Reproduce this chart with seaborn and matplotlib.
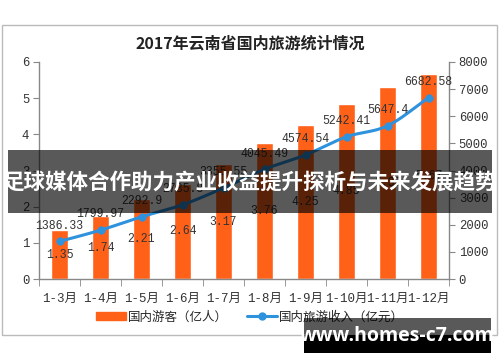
import numpy as np
import matplotlib
matplotlib.use('Agg')
import matplotlib.pyplot as plt
from matplotlib.patches import Rectangle
from matplotlib.lines import Line2D
import seaborn as sns
import pandas as pd

# data
months = ['1-3月', '1-4月', '1-5月', '1-6月', '1-7月', '1-8月', '1-9月', '1-10月', '1-11月', '1-12月']
tourists = [1.35, 1.74, 2.21, 2.64, 3.17, 3.76, 4.25, 4.85, 5.30, 5.67]
income = [1386.33, 1799.97, 2292.9, 2735.8, 3355.55, 4045.49, 4574.54, 5242.41, 5647.4, 6682.58]

bar_color = '#FF6119'
line_color = '#2E92DC'
axis_grey = '#888888'
mono = ['Liberation Mono', 'Noto Sans CJK SC']
cjk = ['Noto Sans CJK SC', 'DejaVu Sans']

sns.set_style('white')
plt.rcParams['font.family'] = cjk

df = pd.DataFrame({'month': months, 'tourists': tourists, 'income': income})

fig = plt.figure(figsize=(5, 3.62), dpi=100)
W, H = 500, 362

# outer chart frame
fig.patches.append(Rectangle((2 / W, 1 - 335 / H), 495 / W, 310 / H, transform=fig.transFigure,
                             fill=False, edgecolor='#BBBBBB', linewidth=1))

ax = fig.add_axes([39 / W, 1 - 279 / H, 410 / W, 217 / H])
sns.barplot(data=df, x='month', y='tourists', color=bar_color, width=0.42, saturation=1, ax=ax)
ax.set_ylim(0, 6)
ax.set_yticks(range(0, 7))
ax.set_xlabel('')
ax.set_ylabel('')

for i, v in enumerate(tourists):
    ax.text(i, v / 2, f'{v:.2f}', ha='center', va='center', fontsize=8.3, family=mono, color='#333333')

ax2 = ax.twinx()
x = np.arange(len(income), dtype=float)
y = np.array(income)

# Catmull-Rom smoothing through the data points (Excel "smoothed line")
px = np.concatenate([[x[0] - (x[1] - x[0])], x, [x[-1] + (x[-1] - x[-2])]])
py = np.concatenate([[y[0] - (y[1] - y[0])], y, [y[-1] + (y[-1] - y[-2])]])
cx, cy = [], []
t = np.linspace(0, 1, 20)
for k in range(1, len(px) - 2):
    for arr, out in ((px, cx), (py, cy)):
        p0, p1, p2, p3 = arr[k - 1], arr[k], arr[k + 1], arr[k + 2]
        out.extend(0.5 * (2 * p1 + (-p0 + p2) * t + (2 * p0 - 5 * p1 + 4 * p2 - p3) * t ** 2
                          + (-p0 + 3 * p1 - 3 * p2 + p3) * t ** 3))
ax2.plot(cx, cy, color=line_color, linewidth=2.2, solid_capstyle='round')
sns.scatterplot(x=x, y=y, color=line_color, s=30, edgecolor=line_color, zorder=3, ax=ax2, legend=False)
ax2.set_ylim(0, 8000)
ax2.set_yticks(range(0, 8001, 1000))

for i, v in enumerate(income):
    ax2.text(i, v + 580, f'{v:g}', ha='center', va='center', fontsize=8.3, family=mono, color='#333333')

ax.set_xlim(-0.5, len(months) - 0.5)
for a in (ax, ax2):
    for s in a.spines.values():
        s.set_visible(False)
ax.spines['left'].set_visible(True)
ax.spines['bottom'].set_visible(True)
ax2.spines['right'].set_visible(True)
for s in (ax.spines['left'], ax.spines['bottom'], ax2.spines['right']):
    s.set_color(axis_grey)
    s.set_linewidth(1)

ax.tick_params(axis='y', direction='out', length=4, color=axis_grey, labelsize=8.8, pad=3, left=True)
ax2.tick_params(axis='y', direction='out', length=4, color=axis_grey, labelsize=8.8, pad=3, right=True)
for lab in ax.get_yticklabels() + ax2.get_yticklabels():
    lab.set_family(mono)
    lab.set_color('#333333')

# category tick marks sit between the bars
ax.set_xticks(np.arange(len(months)))
ax.set_xticklabels(months)
ax.tick_params(axis='x', length=0, labelsize=9, pad=10)
for lab in ax.get_xticklabels():
    lab.set_family(mono)
    lab.set_color('#333333')
ax.set_xticks(np.arange(-0.5, len(months)), minor=True)
ax.tick_params(axis='x', which='minor', direction='out', length=5, color=axis_grey, bottom=True)

fig.text(0.5, 1 - 43 / H, '2017年云南省国内旅游统计情况', ha='center', va='center',
         fontsize=11.5, fontweight='bold', color='#222222')

handles = [Rectangle((0, 0), 1, 1, color=bar_color),
           Line2D([0], [0], color=line_color, lw=2.2, marker='o', markersize=5)]
fig.legend(handles, ['国内游客（亿人）', '国内旅游收入（亿元）'], loc='center',
           bbox_to_anchor=(0.5, 1 - 317 / H), ncol=2, frameon=False, fontsize=9,
           handlelength=2.4, handleheight=0.6, columnspacing=1.5, handletextpad=0.2)

# overlay banner
fig.patches.append(Rectangle((8 / W, 1 - 213 / H), 484 / W, 63 / H, transform=fig.transFigure,
                             facecolor='black', alpha=0.65, edgecolor='none', zorder=10))
fig.text(0.5, 1 - 182 / H, '足球媒体合作助力产业收益提升探析与未来发展趋势', ha='center', va='center',
         fontsize=15.5, fontweight='bold', color='white', zorder=11)

# site watermark
fig.patches.append(Rectangle((304 / W, 1 - 335 / H), 187 / W, 17 / H, transform=fig.transFigure,
                             facecolor='black', alpha=0.65, edgecolor='none', zorder=10))
fig.patches.append(Rectangle((304 / W, 1 - 353 / H), 187 / W, 18 / H, transform=fig.transFigure,
                             facecolor='black', edgecolor='none', zorder=10))
fig.text(397 / W, 1 - 336 / H, 'www.homes-c7.com', ha='center', va='center',
         fontsize=14, fontweight='bold', color='white', family=['Open Sans', 'DejaVu Sans'], zorder=11)

fig.savefig('out.png', dpi=100)
